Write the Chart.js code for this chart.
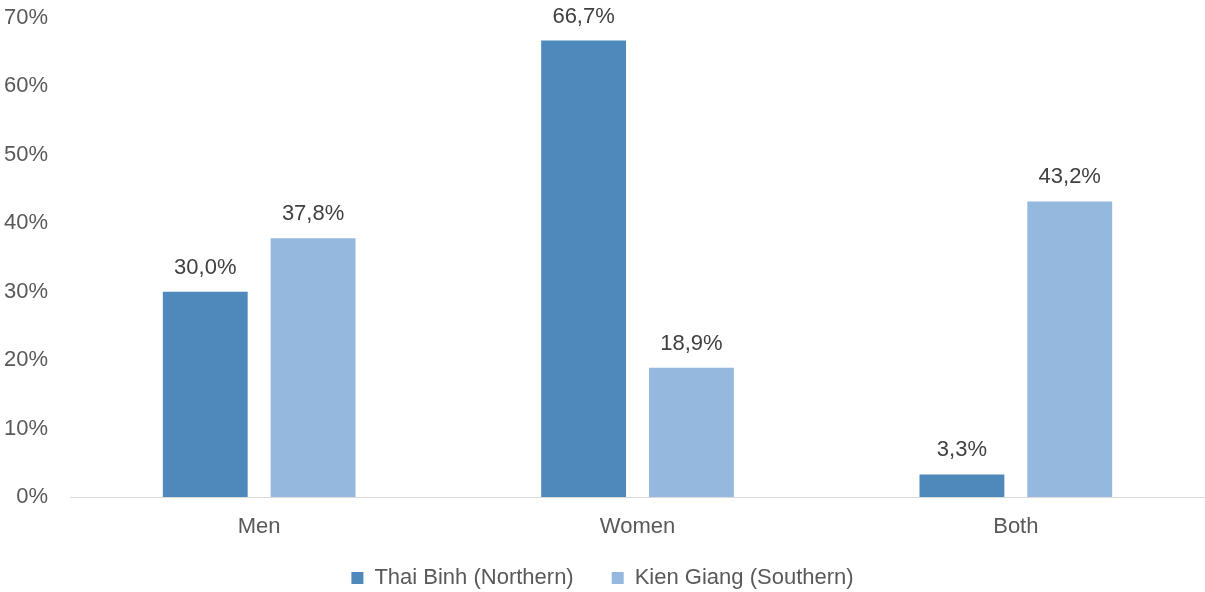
<!DOCTYPE html>
<html>
<head>
<meta charset="utf-8">
<script src="https://cdn.jsdelivr.net/npm/chart.js@4"></script>
<style>
  html, body { margin: 0; padding: 0; background: #fff; }
  #wrap { width: 1205px; height: 592px; }
</style>
</head>
<body>
<div id="wrap"><canvas id="chart"></canvas></div>
<script>
// Data
const categories = ['Men', 'Women', 'Both'];
const seriesNames = ['Thai Binh (Northern)', 'Kien Giang (Southern)'];
const thaiBinh = [30.0, 66.7, 3.3];
const kienGiang = [37.8, 18.9, 43.2];
const yTicks = [0, 10, 20, 30, 40, 50, 60, 70];

const fontFamily = '"Liberation Sans", Arial, sans-serif';
const legendPad = 38;
const padBottom = -7;
const plotTop = 18;
const plotBottom = 497;

// Value labels above bars
const barLabels = {
    id: 'barLabels',
    afterLayout(chart) {
        // let the category labels overflow into the legend's top padding
        chart.scales.x.bottom = chart.scales.x.top + 50;
    },
    afterDatasetsDraw(chart) {
        const ctx = chart.ctx;
        ctx.save();
        ctx.font = '22px ' + fontFamily;
        ctx.fillStyle = '#404040';
        ctx.textAlign = 'center';
        ctx.textBaseline = 'middle';
        chart.data.datasets.forEach((ds, i) => {
            chart.getDatasetMeta(i).data.forEach((bar, j) => {
                const txt = ds.data[j].toFixed(1).replace('.', ',') + '%';
                ctx.fillText(txt, bar.x, bar.y - 24);
            });
        });
        ctx.restore();
    }
};

const ctx = document.getElementById('chart').getContext('2d');
const chart = new Chart(ctx, {
    type: 'bar',
    data: {
        labels: categories,
        datasets: [{
            label: seriesNames[0],
            data: thaiBinh,
            backgroundColor: '#4F89BC',
            categoryPercentage: 0.57,
            barPercentage: 0.787
        }, {
            label: seriesNames[1],
            data: kienGiang,
            backgroundColor: '#95B8DF',
            categoryPercentage: 0.57,
            barPercentage: 0.787
        }]
    },
    options: {
        responsive: true,
        maintainAspectRatio: false,
        animation: false,
        layout: { padding: { top: 0, right: 0, left: 0, bottom: padBottom } },
        plugins: {
            legend: {
                position: 'bottom',
                labels: {
                    font: { family: fontFamily, size: 22 },
                    color: '#595959',
                    boxWidth: 12,
                    boxHeight: 12,
                    padding: legendPad
                }
            },
            tooltip: { enabled: false }
        },
        scales: {
            x: {
                grid: { display: false, drawTicks: false },
                border: { display: true, color: '#D9D9D9', width: 1 },
                ticks: {
                    font: { family: fontFamily, size: 22 },
                    color: '#595959',
                    padding: 17
                },
                afterFit: axis => {
                    const lg = axis.chart.legend;
                    axis.height = (592 - padBottom) - lg.height - plotBottom;
                }
            },
            y: {
                min: 0,
                max: 70,
                afterBuildTicks: axis => { axis.ticks = yTicks.map(v => ({ value: v })); },
                grid: { display: false, drawTicks: false },
                border: { display: false },
                ticks: {
                    font: { family: fontFamily, size: 22 },
                    color: '#595959',
                    padding: 22,
                    callback: v => v + '%'
                },
                afterFit: axis => {
                    axis.width = 70;
                    axis.paddingTop = plotTop;
                    axis.paddingBottom = 13;
                }
            }
        }
    },
    plugins: [barLabels]
});
</script>
</body>
</html>
